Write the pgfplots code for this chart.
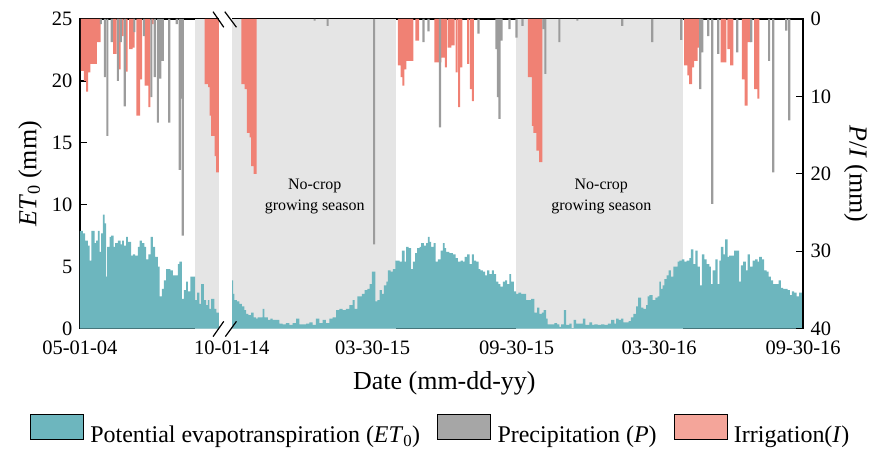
\documentclass[border=0pt]{standalone}
\usepackage{pgfplots}
\pgfplotsset{compat=1.18}
\usepackage{fontspec}
\setmainfont{Liberation Serif}
\definecolor{etc}{HTML}{6DB6BE}
\definecolor{shade}{HTML}{E5E5E5}
\definecolor{pc}{HTML}{9C9C9C}
\definecolor{ic}{HTML}{F08174}
\definecolor{pleg}{HTML}{A6A6A6}
\definecolor{ileg}{HTML}{F4A59A}

\pgfplotstableread{
d v
0 7.9
3.8 7.7
6.8 7.1
10.2 6.7
12.3 5.5
14.5 7.9
18.7 6.9
20.8 7.1
23.0 7.9
25.1 6.2
27.2 7.7
29.4 9.2
31.5 8.5
33.6 4.2
34.9 6.6
37.9 7.4
40.0 7.5
43.0 6.6
45.1 6.9
48.5 7.1
52.0 6.8
54.0 7.1
56.2 6.7
59.1 7.4
61.3 7.0
65.5 5.9
67.6 6.0
70.6 5.9
74.0 6.6
76.2 7.1
79.1 6.9
82.5 6.6
84.7 5.6
87.6 6.0
90.2 7.4
93.2 6.6
96.1 5.8
99.5 5.0
101.7 2.6
104.6 3.2
107.2 3.9
110.2 4.8
112.3 4.8
115.7 4.7
118.7 4.3
125.1 5.2
127.2 5.4
130.2 2.4
132.7 3.1
135.7 3.8
137.8 3.0
141.2 4.2
147.2 2.3
149.8 2.9
152.7 2.0
154.9 3.6
158.3 2.3
161.2 1.9
163.4 2.3
165.5 1.6
167.6 2.4
171.9 1.6
174.4 1.3
177.8 0
194 3.9
195.7 2.8
197.4 2.3
200.4 2.2
203.8 2.0
206.8 1.8
210.2 1.5
212.3 1.2
215.3 1.1
218.7 1.3
222.1 0.9
225.1 0.8
227.2 0.9
233.6 1.6
235.7 0.9
240.0 0.7
243.4 0.8
246.3 0.7
254.8 0.4
259.1 0.35
263.3 0.45
267.6 0.3
271.8 0.45
276.1 0.8
280.4 0.35
288.9 0.4
293.1 0.5
297.4 0.3
301.6 0.8
305.9 0.45
310.1 0.7
314.4 0.45
318.7 0.8
322.9 0.9
327.2 1.5
331.4 1.6
335.7 1.5
339.9 1.6
344.2 1.9
348.4 2.3
351.0 1.6
354.4 2.6
360.4 2.8
363.8 3.1
367.2 3.2
370.1 3.6
373.1 4.6
377.4 2.2
379.9 2.3
382.9 3.1
385.9 2.8
388.4 3.5
391.4 3.8
393.5 4.7
396.9 4.6
399.9 4.8
402.9 5.5
408.4 5.4
411.4 6.3
414.8 5.4
416.9 6.6
419.9 6.5
423.3 4.8
425.4 5.4
428.4 6.1
431.0 6.5
434.0 6.6
436.1 6.9
439.5 6.7
442.5 6.9
444.6 7.4
446.7 7.0
448.8 6.6
451.8 6.9
454.4 5.4
457.4 5.6
460.8 6.3
463.7 6.9
465.9 6.5
468.0 6.2
472.2 6.1
476.5 6.0
479.9 5.7
482.9 5.4
486.3 5.5
489.3 5.4
491.4 5.8
494.8 6.0
497.8 5.2
500.7 6.0
503.3 5.5
506.3 5.4
509.3 4.8
511.8 4.7
514.8 4.6
517.8 4.3
520.3 4.7
523.3 4.4
526.3 4.7
528.8 4.4
531.8 3.8
534.8 3.6
537.3 3.4
540.3 3.8
543.3 3.9
545.8 3.6
548.8 4.4
551.0 3.8
554.4 3.0
557.3 2.8
560.3 2.9
563.7 2.8
570.1 2.3
576.5 2.4
580.7 1.3
584.1 1.7
587.1 1.2
590.1 1.3
592.6 1.5
595.6 0.8
597.7 0.35
606.2 0.45
609.7 0.35
612.6 0.15
614.8 0.35
618.2 1.5
621.1 0.3
625.4 0.4
628.4 0.05
630.9 0.7
633.9 0.4
638.2 0.4
642.5 0.8
645.9 0.3
651.0 0.5
654.4 0.3
657.3 0.35
661.6 0.3
665.9 0.35
670.1 0.3
674.4 0.4
678.6 0.7
682.9 0.4
685.0 0.8
688.4 0.7
691.4 0.8
694.4 0.5
701.2 0.6
704.1 0.9
707.1 1.2
710.5 1.8
713.1 2.5
716.9 1.7
719.9 1.6
723.3 1.9
725.4 2.6
727.5 2.7
731.8 2.3
735.2 2.5
738.2 2.6
740.3 3.8
742.4 3.2
744.6 3.5
746.7 4.0
749.7 4.3
752.2 4.7
755.2 4.2
758.2 5.0
763.7 5.4
765.8 5.5
769.2 5.6
772.2 5.4
775.2 5.5
778.6 5.7
780.7 6.4
783.7 5.2
786.2 6.3
789.2 5.0
792.2 3.5
794.8 6.0
797.7 5.6
800.7 5.2
804.1 5.0
806.2 3.6
808.4 4.7
811.8 5.6
814.7 3.6
816.9 5.5
819.0 6.6
822.0 6.0
824.5 7.2
827.5 5.8
829.6 5.9
836.0 6.3
842.4 3.8
844.5 5.1
847.5 5.4
850.9 4.7
853.0 6.0
856.0 5.0
859.4 5.5
862.8 5.6
865.8 5.4
867.9 5.8
871.3 5.6
874.3 4.7
877.3 4.6
879.8 4.2
882.8 3.9
885.8 3.6
892.6 3.9
895.6 3.3
898.6 3.2
904.1 3.1
907.1 2.7
909.6 3.0
912.6 2.9
915.6 2.6
919.0 2.9
922.4 2.6
924 2.6
}\etdata

\pgfplotstableread{
d v
2.4 6.7
4.2 6.7
6.4 8.0
9.1 9.4
12.1 6.9
14.7 5.8
16.9 5.8
19.1 5.8
20.5 5.8
23.2 3.0
25.3 3.0
43.6 4.5
45.7 4.5
48.7 6.5
50.8 6.5
54.7 2.2
58.5 6.8
59.8 6.8
64.1 3.9
66.2 3.9
68.7 3.7
73.4 12.5
75.5 12.5
78.3 7.8
84.1 8.6
86.1 8.6
88.7 11.4
92.9 0.65
160.8 8.4
163.0 8.4
165.0 8.8
167.0 12.5
169.1 15.1
171.2 15.1
173.3 17.7
175.4 19.8
176.5 19.8
207.6 8.4
209.5 8.4
211.9 9.05
214.5 14.7
216.2 14.7
218.1 15.3
220.0 19.0
221.6 19.0
223.3 20.0
224.6 20.0
407.5 6.0
409.7 6.0
411.0 7.5
413.3 8.6
415.8 6.5
418.3 5.4
420.5 5.4
422.7 5.4
424.9 5.4
429.9 2.8
432.0 2.8
454.2 5.6
456.3 5.6
458.4 5.6
460.5 5.6
462.7 5.0
464.8 5.0
467.5 6.25
471.2 3.7
473.3 3.7
475.5 3.4
477.5 3.4
481.4 6.9
484.4 11.4
487.5 6.25
496.0 5.8
499.5 9.05
502.0 10.6
573.5 7.5
575.5 7.5
576.8 7.5
578.9 13.8
580.8 14.7
582.6 14.7
584.6 17.0
586.0 17.0
588.0 18.5
589.5 18.5
773.3 6.0
775.4 6.0
777.5 7.3
779.7 8.4
781.0 8.4
783.4 6.25
786.0 5.4
788.0 5.4
790.2 3.7
792.3 3.7
820.0 5.6
822.2 5.6
824.6 5.6
828.4 3.9
830.5 3.9
832.2 6.0
833.6 6.0
847.0 7.8
849.2 7.8
850.5 11.2
851.8 11.2
854.0 3.0
856.2 3.0
862.6 9.05
864.7 9.05
866.8 10.3
}\irdata

\pgfplotstableread{
d v
26.8 0.65
31.9 7.5
35.1 15.1
40.8 3.0
48.5 8.0
52.3 3.0
57.4 11.3
69.6 1.7
81.7 2.2
91.3 10.1
95.7 7.5
99.6 13.4
102.7 7.7
105.9 5.4
114.2 13.4
123.8 0.65
127.6 19.5
129.5 10.3
131.5 28.0
299.9 0.2
316.5 0.9
375.9 29.1
439.0 3.0
445.4 1.6
460.1 14.0
509.2 1.9
532.2 3.9
534.1 10.1
536.0 12.9
538.6 2.8
548.8 1.3
557.7 2.4
565.4 0.9
592.2 1.3
594.7 7.1
612.6 3.0
635.6 0.2
693.0 0.9
731.3 3.0
768.3 2.7
792.6 9.05
795.1 4.3
802.8 2.2
807.9 23.9
815.6 4.5
839.8 4.3
857.7 3.0
880.6 5.4
885.8 19.8
902.4 1.5
906.2 13.1
}\prdata

\begin{document}
\begin{tikzpicture}
\begin{axis}[
  name=main,
  scale only axis, width=724pt, height=310pt,
  xmin=0, xmax=924, ymin=0, ymax=25,
  axis line style={line width=1.3pt},
  xtick={0,194,374,558,740,924},
  xticklabels={05-01-04,10-01-14,03-30-15,09-30-15,03-30-16,09-30-16},
  ytick={0,5,10,15,20,25},
  xtick pos=bottom, ytick pos=left,
  tick align=inside,
  major tick length=7pt,
  tick style={line width=1.3pt, black},
  /pgf/number format/assume math mode=true,
  tick label style={font=\fontsize{20.5}{24}\selectfont},
  xticklabel style={yshift=-9pt},
  yticklabel style={xshift=-4pt},
  xlabel={Date (mm-dd-yy)},
  xlabel style={font=\fontsize{26}{30}\selectfont, at={(axis description cs:0.504,-0.176)}, anchor=center},
  ylabel={\textit{ET}\textsubscript{0} (mm)},
  ylabel style={font=\fontsize{26}{30}\selectfont, at={(axis description cs:-0.069,0.5)}, anchor=center},
  legend columns=3,
  legend style={at={(axis description cs:0.4975,-0.324)}, anchor=center, draw=none, fill=none,
    font=\fontsize{24}{28}\selectfont, nodes={inner sep=0pt},
    /tikz/every odd column/.append style={column sep=7pt},
    /tikz/every even column/.append style={column sep=17pt}},
  legend image code/.code={\fill[#1] (0pt,-4pt) rectangle (53pt,21pt);},
]
\addplot[fill=shade, draw=none, forget plot] coordinates {(146.8,25) (177.4,25)} \closedcycle;
\addplot[fill=shade, draw=none, forget plot] coordinates {(194,25) (403.3,25)} \closedcycle;
\addplot[fill=shade, draw=none, forget plot] coordinates {(557.7,25) (770.9,25)} \closedcycle;
\addplot[const plot mark left, fill=etc, draw=none, forget plot] table[x=d, y=v] {\etdata} \closedcycle;
\node[align=center, font=\fontsize{16}{21}\selectfont] at (axis cs:300,10.7) {No-crop\\growing season};
\node[align=center, font=\fontsize{16}{21}\selectfont] at (axis cs:666.2,10.7) {No-crop\\growing season};
\addlegendimage{fill=etc}
\addlegendentry{Potential evapotranspiration (\textit{ET}\textsubscript{0})}
\addlegendimage{fill=pleg}
\addlegendentry{Precipitation (\textit{P})}
\addlegendimage{fill=ileg}
\addlegendentry{Irrigation(\textit{I})}
\end{axis}
\begin{axis}[
  scale only axis, width=724pt, height=310pt,
  xmin=0, xmax=924, ymin=0, ymax=40, y dir=reverse,
  axis x line=none, axis y line*=right,
  axis line style={line width=1.3pt},
  ytick={0,10,20,30,40},
  tick align=inside,
  major tick length=7pt,
  tick style={line width=1.3pt, black},
  /pgf/number format/assume math mode=true,
  tick label style={font=\fontsize{20.5}{24}\selectfont},
  yticklabel style={xshift=4pt},
  ylabel={\textit{P}/\textit{I} (mm)},
  ylabel style={font=\fontsize{26}{30}\selectfont, rotate=180, at={(axis description cs:1.073,0.5)}, anchor=center},
  clip=false,
]
\addplot[ybar, bar width=2.6, bar shift=0pt, fill=ic, draw=none] table[x=d, y=v] {\irdata};
\addplot[ybar, bar width=2.8, bar shift=0pt, fill=pc, draw=none] table[x=d, y=v] {\prdata};
\fill[white] (axis cs:177.8,-0.8) rectangle (axis cs:193.8,40.8);
\draw[line width=1.2pt] (axis cs:170.1,-0.94) -- (axis cs:183.8,1.07);
\draw[line width=1.2pt] (axis cs:185.1,-0.94) -- (axis cs:200.0,1.07);
\draw[line width=1.2pt] (axis cs:170.1,41.03) -- (axis cs:183.8,39.06);
\draw[line width=1.2pt] (axis cs:185.8,41.03) -- (axis cs:200.0,39.06);
\end{axis}
\path (-80pt,-123pt) rectangle (791pt,329pt);
\end{tikzpicture}
\end{document}
